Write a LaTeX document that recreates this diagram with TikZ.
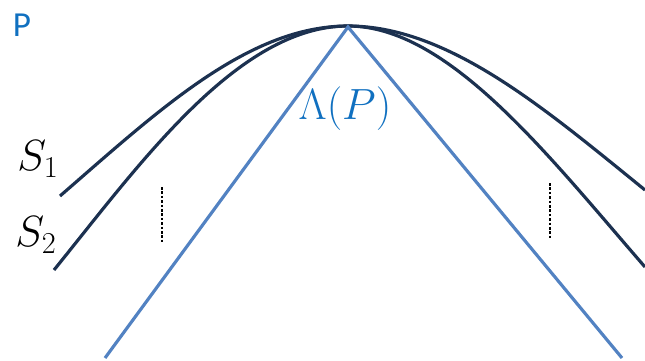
\documentclass[tikz,border=0pt]{standalone}
\usepackage{fontspec}
\usepackage{xcolor}
\usepackage{tikz}
\newfontfamily\labelfont{Carlito}
\definecolor{navy}{HTML}{1C3150}
\definecolor{cone}{HTML}{5282C2}
\definecolor{tag}{HTML}{1070C0}

\begin{document}
\begin{tikzpicture}[x=0.02cm, y=0.02cm,
  surface/.style={draw=navy, line width=1.8pt},
  coneline/.style={draw=cone, line width=1.8pt},
  gap/.style={draw=black, line width=1.5pt, dash pattern=on 1.5pt off 1pt},
  mathlabel/.style={font=\fontsize{24}{28}\selectfont, inner sep=0pt}
]
\useasboundingbox (0,0) rectangle (645,360);

\coordinate (apex) at (348,333);
\coordinate (lfoot) at (105,2);
\coordinate (rfoot) at (622,2);
\coordinate (top) at (348,334);

% the two surfaces through P
\draw[surface] (60,164) .. controls (158,249) and (248,334) .. (top)
  .. controls (448,334) and (544,252) .. (645,170);
\draw[surface] (54,90) .. controls (139,195) and (238,334) .. (top)
  .. controls (448,334) and (547,206) .. (645,93);

% light cone
\draw[coneline] (lfoot) -- (apex) -- (rfoot);

% dotted gaps
\coordinate (lgapt) at (162,173);
\coordinate (lgapb) at (162,117);
\coordinate (rgapt) at (550,177);
\coordinate (rgapb) at (550,120);
\draw[gap] (lgapt) -- (lgapb);
\draw[gap] (rgapt) -- (rgapb);

\node[font=\labelfont\fontsize{20}{24}\selectfont, text=tag, inner sep=0pt] (p) at (22,335) {P};
\node[mathlabel, text=tag] (lam) at (345,251) {$\Lambda(P)$};
\node[mathlabel] (s1) at (38,201) {$S_1$};
\node[mathlabel] (s2) at (36,125) {$S_2$};

\end{tikzpicture}
\end{document}
